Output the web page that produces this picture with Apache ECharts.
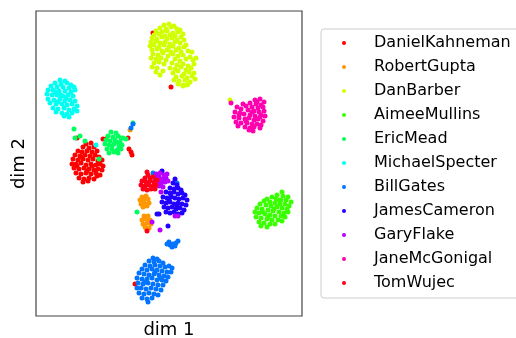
<!DOCTYPE html>
<html><head><meta charset="utf-8">
<script src="https://cdn.jsdelivr.net/npm/echarts@6/dist/echarts.min.js"></script>
<style>html,body{margin:0;padding:0;background:#fff}#c{width:516px;height:338px}</style>
</head><body><div id="c"></div>
<script>
const speakers = ["DanielKahneman","RobertGupta","DanBarber","AimeeMullins","EricMead","MichaelSpecter","BillGates","JamesCameron","GaryFlake","JaneMcGonigal","TomWujec"];
const colors = ["#ff0000","#ff9700","#d1ff00","#3aff00","#00ff5c","#00fff3","#0074ff","#2200ff","#b900ff","#ff00ae","#ff0018"];

const danielKahneman = [
[50,172],[55,173],[47,169],[53,168],[58,169],
[42,165],[46,164],[51,165],[56,164],[61,165],
[39,161],[44,160],[49,161],[54,160],[59,161],[63,159],
[37,157],[42,156],[47,157],[52,156],[57,157],[62,155],[66,156],
[36,152],[40,152],[45,153],[50,151],[55,152],[60,151],[64,152],[67,150],
[38,148],[43,147],[48,148],[53,147],[58,146],[62,147],[66,146],
[40,143],[45,142],[50,143],[55,142],[60,143],[64,141],
[43,138],[48,137],[53,138],[58,137],[47,134],[52,135],
[45,159],[56,150],[51,145],[61,140],[41,150],
[117,283],[135,229],[41,178],[67,177],[70,177],[92,178],[93,167],[95,164],[96,161],[99,32]
];
const robertGupta = [
[106,119],[110,120],[104,116],[108,116],[112,117],[105,112],[109,112],[113,113],[107,109],[111,110],
[108,100],[112,100],[106,96],[110,97],[114,96],[107,92],[111,93],[115,92],[109,89],[113,88],[110,88],
[94,186]
];
const danBarber = [
[128,291],[133,292],[138,290],
[124,288],[130,287],[135,289],[141,287],[144,286],
[120,285],[126,284],[131,285],[137,283],[142,284],[147,282],
[118,281],[123,282],[129,280],[134,281],[139,280],[145,279],
[116,278],[121,277],[126,279],[131,277],[136,278],[141,276],[148,276],
[115,274],[120,275],[124,273],[129,274],[134,272],[139,274],[144,273],[150,271],
[114,270],[118,271],[123,269],[128,271],[133,269],[137,270],[143,268],[148,269],
[116,266],[121,267],[126,265],[131,266],[135,264],[140,266],[145,264],[152,265],[156,264],
[117,262],[122,261],[127,263],[132,260],[137,262],[142,260],[147,261],[154,259],
[115,258],[120,257],[125,258],[130,256],[139,257],[144,255],[150,257],[157,256],[160,258],
[118,253],[123,254],[128,252],[136,253],[141,251],[147,252],[152,250],[158,252],
[116,249],[121,248],[134,248],[139,247],[145,249],[150,246],[155,248],
[120,244],[127,245],[137,243],[142,245],[148,242],[153,244],[158,243],
[124,241],[140,239],[146,240],[151,238],[156,240],
[138,236],[143,235],[149,236],[154,234],[159,237],
[142,232],[147,231],[152,232],[147,230],[151,231],
[194,216]
];
const aimeeMullins = [
[246,124],[241,121],[247,120],[252,119],[236,119],[231,117],[240,117],[245,116],[250,116],[255,114],
[228,115],[234,114],[239,113],[244,112],[249,112],[253,110],
[224,112],[230,111],[235,110],[241,109],[246,108],[251,107],
[221,108],[226,107],[232,106],[237,105],[243,104],[248,103],[252,104],
[219,104],[223,103],[229,102],[234,101],[239,100],[245,100],[249,99],
[220,99],[225,98],[231,97],[236,96],[242,96],[246,95],
[223,94],[228,93],[234,92],[239,92],[225,90],[231,89],
[238,107],[232,99],[243,116],[227,104]
];
const ericMead = [
[75,184],[80,183],[72,180],[77,179],[82,180],[85,178],
[70,176],[74,175],[79,176],[84,174],
[69,172],[73,171],[78,172],[83,170],[86,171],
[71,167],[76,167],[81,166],[85,167],
[73,163],[78,164],[82,163],[76,170],[80,174],
[38,187],[39,178],[44,180],[49,175],[87,178],[90,177],[97,193],[63,157],[101,104]
];
const michaelSpecter = [
[24,236],[29,235],[19,233],[25,232],[31,233],[35,231],
[15,230],[21,229],[27,229],[33,228],[38,229],
[12,226],[17,226],[23,225],[29,225],[35,224],[39,226],
[11,222],[16,221],[21,221],[27,220],[32,221],[37,220],
[12,217],[18,216],[24,217],[29,215],[34,216],[39,215],
[14,213],[20,212],[26,212],[31,211],[36,212],[41,210],
[17,208],[22,207],[28,208],[33,206],[38,207],[41,205],
[20,204],[26,203],[31,202],[36,203],[28,200],[33,199],
[25,221],[19,224],[30,218],[22,214],
[60,171]
];
const billGates = [
[117,58],[121,57],[113,55],[118,54],[123,55],[127,53],
[109,51],[114,50],[119,51],[124,50],[129,49],[133,50],[136,48],
[106,47],[111,46],[116,47],[121,46],[126,45],[131,44],[135,44],
[103,43],[108,42],[113,41],[118,42],[123,41],[128,40],[132,39],
[101,38],[106,37],[111,37],[116,38],[121,36],[126,36],[130,35],
[102,33],[107,32],[112,33],[117,32],[122,31],[127,31],
[101,28],[105,28],[110,27],[115,28],[120,27],[125,26],
[103,23],[108,22],[113,23],[118,22],[122,21],
[106,18],[111,17],[116,18],[112,14],
[119,44],[109,34],[124,38],
[131,72],[134,71],[137,72],[140,73],[142,75],[133,74],[136,69],[139,70],
[117,143],[141,133],[97,192],[95,188]
];
const jamesCameron = [
[139,137],[137,133],[141,131],
[134,128],[138,127],[142,128],[145,126],
[130,124],[134,123],[138,124],[142,122],[146,123],[149,121],
[127,119],[131,118],[135,119],[139,118],[143,117],[147,118],[151,116],
[126,114],[130,113],[134,114],[138,112],[142,113],[146,112],[150,111],
[128,109],[132,108],[136,109],[140,107],[144,108],[148,106],
[130,104],[134,103],[138,104],[142,102],[146,103],
[135,120],[141,110],[133,116],
[121,102],[123,102],[132,90],[126,145]
];
const garyFlake = [
[120,142],[124,143],[128,141],[131,142],
[119,138],[123,139],[127,137],[130,138],
[121,134],[125,133],[129,134],[132,135],
[123,130],[127,129],[124,136],
[125,124],[116,94],[124,86],[142,100],[139,100]
];
const janeMcGonigal = [
[219,216],[224,217],[228,214],[214,213],[220,212],[225,211],[210,210],[216,209],[222,208],[227,209],
[201,209],[205,207],[212,206],[218,205],[223,204],[228,205],
[199,204],[204,203],[208,202],[214,201],[219,200],[225,201],[229,200],
[198,199],[203,198],[209,197],[213,198],[218,196],[222,197],[227,195],
[200,194],[205,193],[211,193],[216,192],[221,192],[225,191],
[202,190],[209,189],[214,188],[218,189],[224,188],[213,186],[217,185],
[207,212],[203,201],[210,195],[216,204],[221,214],[224,199],
[195,213]
];
const tomWujec = [
[111,144],[112,141],[109,138],[114,138],[117,139],
[106,135],[110,134],[114,135],[118,134],[121,136],
[105,131],[109,130],[113,131],[117,130],[120,131],
[107,127],[111,126],[115,127],[119,127],
[111,85]
];

const allData = [danielKahneman, robertGupta, danBarber, aimeeMullins, ericMead, michaelSpecter, billGates, jamesCameron, garyFlake, janeMcGonigal, tomWujec];

const chart = echarts.init(document.getElementById('c'));
chart.setOption({
  animation: false,
  grid: {left: 36, top: 11, width: 266, height: 305, outerBoundsMode: 'none', containLabel: false, show: true, borderColor: '#444', borderWidth: 1.2, backgroundColor: '#fff'},
  xAxis: {type: 'value', min: 0, max: 266, axisLine: {show: false}, axisTick: {show: false}, axisLabel: {show: false}, splitLine: {show: false},
    name: 'dim 1', nameLocation: 'middle', nameGap: 5, nameTextStyle: {fontFamily: 'DejaVu Sans', fontSize: 18, color: '#000', verticalAlign: 'top'}},
  yAxis: {type: 'value', min: 0, max: 305, axisLine: {show: false}, axisTick: {show: false}, axisLabel: {show: false}, splitLine: {show: false},
    name: 'dim 2', nameLocation: 'middle', nameGap: 8, nameTextStyle: {fontFamily: 'DejaVu Sans', fontSize: 18, color: '#000'}},
  legend: {
    orient: 'vertical', left: 321, top: 29,
    padding: [5, 10, 6, 21],
    itemWidth: 44, itemHeight: 4, itemGap: 6, icon: 'circle',
    borderColor: '#cccccc', borderWidth: 1, borderRadius: 3,
    textStyle: {fontFamily: 'DejaVu Sans', fontSize: 16, color: '#000', lineHeight: 18, padding: [0,0,0,3]},
    data: speakers
  },
  series: speakers.map((n, i) => ({
    name: n, type: 'scatter', data: allData[i], symbolSize: 5,
    itemStyle: {color: colors[i], opacity: 1}
  }))
});
</script></body></html>
